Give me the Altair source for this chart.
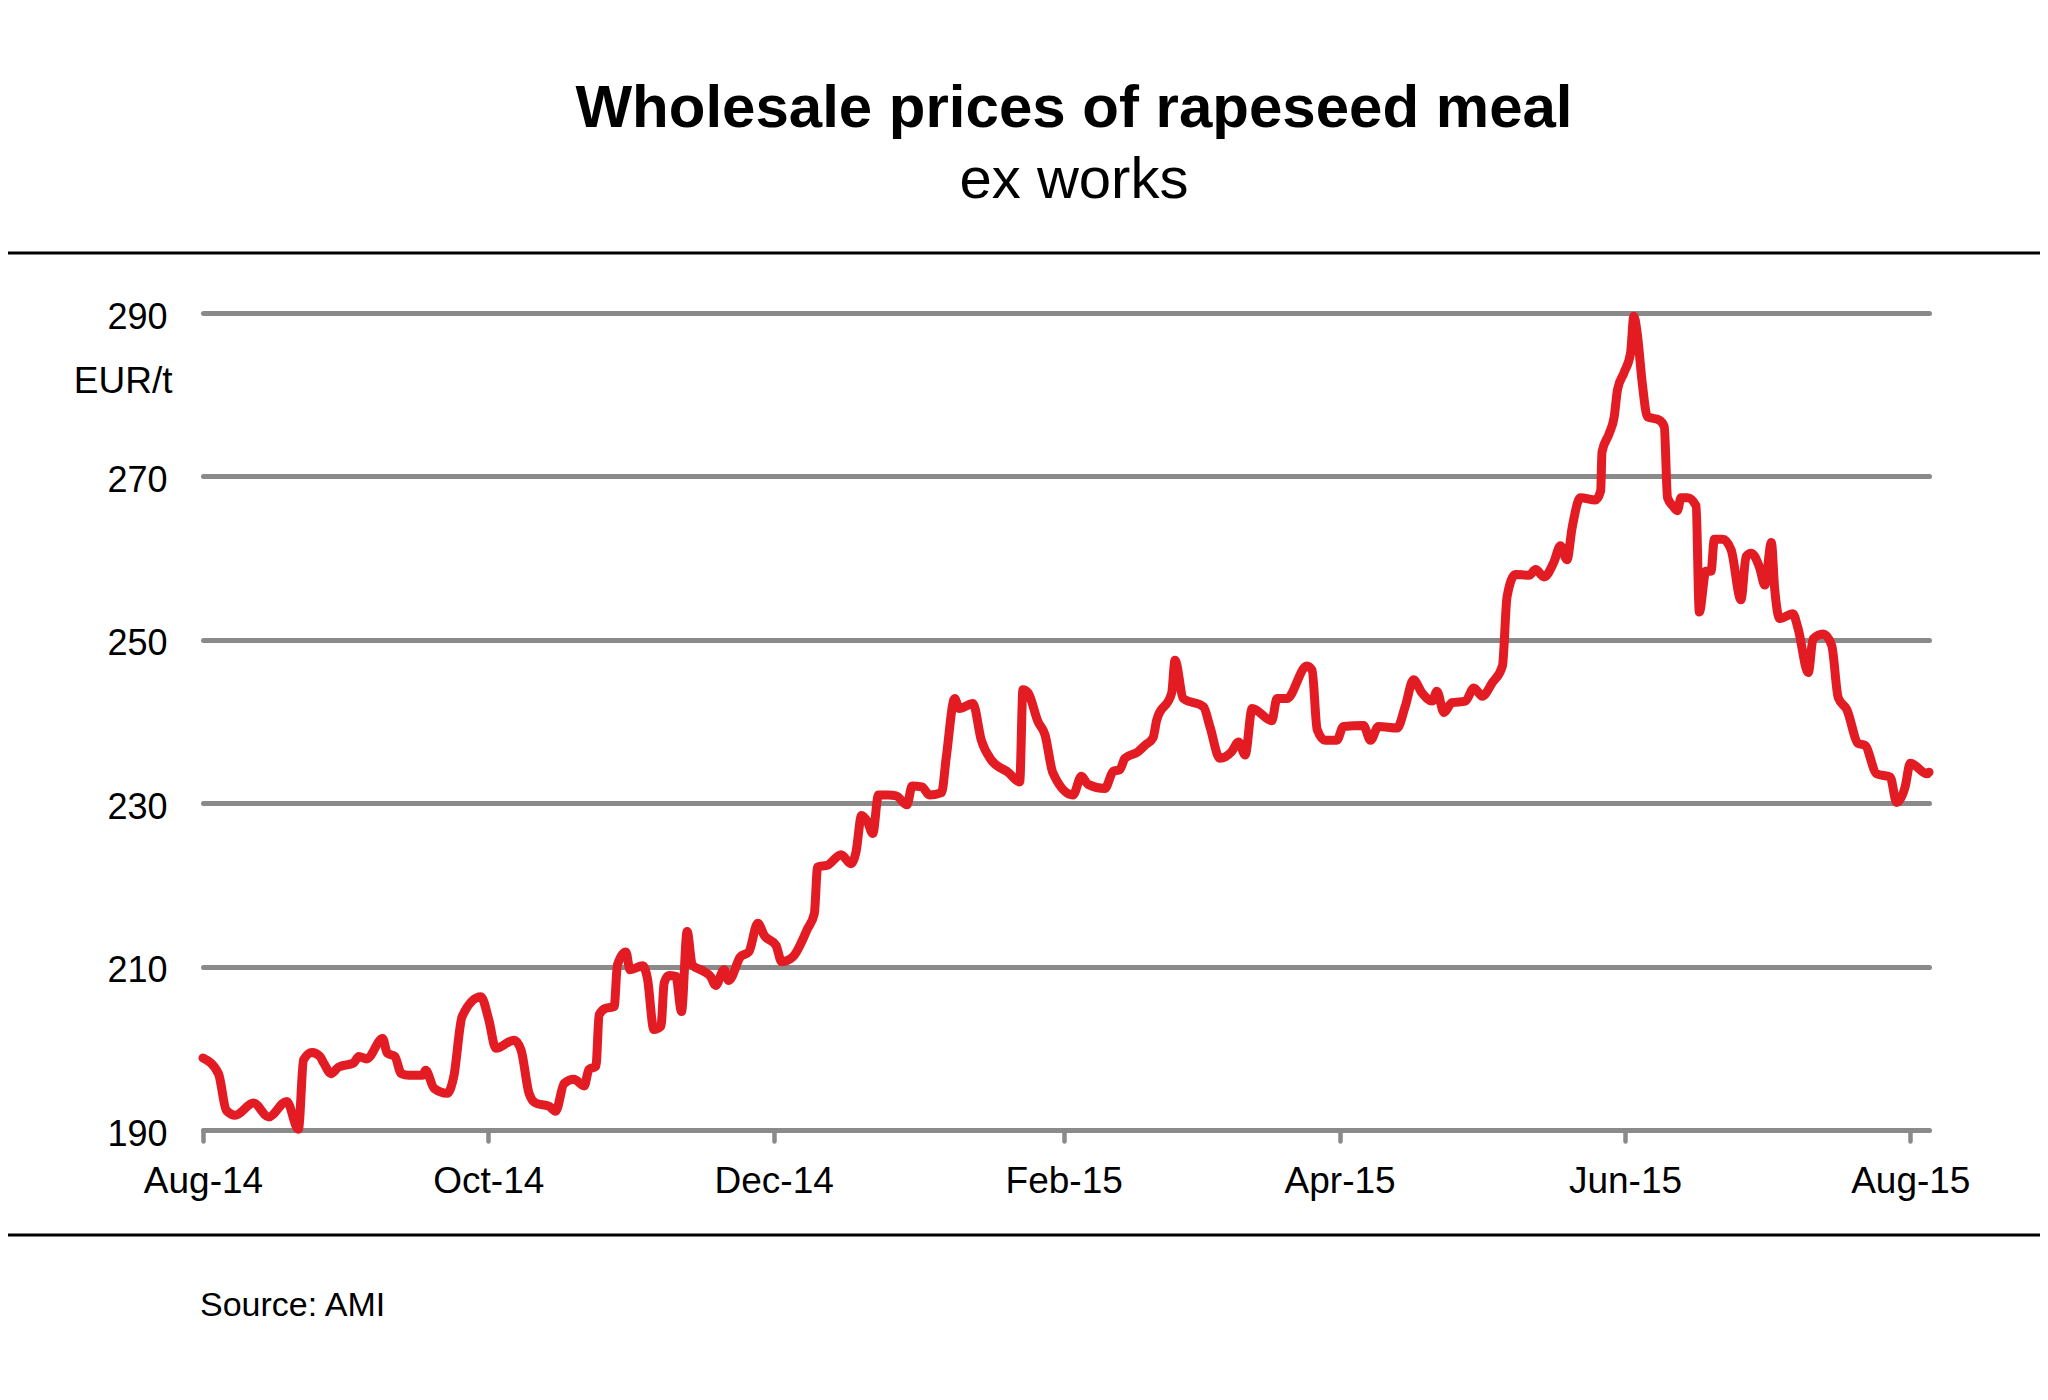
import pandas as pd
import altair as alt

# days after 1 Aug 2014 and price in EUR/t
DAY = [0, 3.3, 5, 6.9, 10.8, 14, 17.9, 20.4, 21.5, 23.3, 25, 25.8, 27.4, 29, 32.2,
       33.3, 35, 38.4, 39.4, 41, 42.4, 44, 46.9, 47.6, 49.4, 52.2, 53.6, 55.4, 59.4,
       61.1, 62.6, 66.5, 68, 69.7, 71.1, 74, 75.4, 77.2, 79.3, 81.5, 82.5, 84, 84.7,
       86.1, 87.9, 88.6, 90.4, 91.3, 94, 95, 96.4, 97.9, 98.6, 99.6, 101.1, 102.3,
       103.5, 104.6, 107.1, 108.5, 109.6, 111.4, 112.4, 114.9, 116.7, 118.6, 120,
       122.5, 123.7, 126.1, 129.3, 130.7, 131.4, 133.5, 136.4, 138.5, 139.6, 140.8,
       142, 143.2, 144.4, 146.5, 148.2, 150.5, 151.6, 153.7, 155.3, 157.9, 158.9,
       160.7, 161.7, 164.6, 166.4, 168.5, 172.1, 174.6, 175.3, 176.4, 178.5, 180,
       181.7, 186, 187.8, 189.2, 192.8, 194.6, 196, 197.1, 199.9, 201.4, 203.1,
       203.9, 207.1, 207.8, 209.6, 213.9, 215.3, 217.4, 219.9, 221.4, 222.8, 224.3,
       228.5, 229.6, 231.7, 236, 237.1, 238.2, 239.9, 242.4, 243.8, 248.1, 249.6,
       251.3, 255.3, 257, 258.8, 260.6, 262.8, 263.8, 265.3, 267, 269.9, 271.7,
       273.5, 275.6, 277.8, 278.8, 280.6, 283.5, 284.9, 286.7, 288.8, 290.2, 291.6,
       292.7, 294.5, 297.7, 298.8, 299.1, 300.6, 301.7, 302.4, 303.8, 305.2, 305.9,
       306.6, 307.7, 308.8, 311.3, 312.4, 313.1, 314.2, 315.2, 316, 317.4, 319.2,
       319.9, 321.3, 322.4, 323.1, 324.9, 326.7, 328.8, 329.9, 331, 332.8, 333.9,
       335.3, 336, 337.1, 339.9, 341, 343.2, 344.2, 346.4, 348.2, 349.6, 351.4,
       353.9, 355.3, 357.8, 360.7, 362.1, 363.9, 365, 368.6, 369]

PRICE = [198.8, 196.9, 192.4, 191.8, 193.3, 191.6, 193.5, 190.1, 198.6, 199.5, 199.0,
         198.2, 196.9, 197.7, 198.2, 199.0, 198.7, 201.2, 199.4, 199.0, 196.9, 196.7,
         196.7, 197.3, 195.1, 194.5, 196.5, 203.9, 206.3, 203.5, 200.0, 201.0, 199.8,
         194.5, 193.3, 192.9, 192.3, 195.7, 196.2, 195.4, 197.4, 197.8, 204.1, 204.9,
         205.1, 210.2, 211.8, 209.6, 210.1, 208.6, 202.3, 202.7, 208.0, 208.9, 208.8,
         204.5, 214.3, 210.2, 209.4, 208.8, 207.7, 209.6, 208.3, 211.2, 211.8, 215.3,
         213.8, 212.6, 210.6, 211.2, 214.7, 216.5, 222.2, 222.4, 223.7, 222.6, 224.0,
         228.5, 227.8, 226.3, 231.0, 231.0, 230.9, 229.8, 232.1, 232.0, 231.0, 231.3,
         235.6, 242.8, 241.6, 242.2, 237.7, 235.3, 233.8, 232.6, 243.9, 243.5, 240.0,
         238.4, 233.7, 231.0, 233.3, 232.3, 231.8, 233.9, 234.1, 235.5, 236.3, 237.1,
         238.0, 240.2, 243.5, 247.5, 242.8, 241.8, 239.3, 235.5, 236.3, 237.5, 235.9,
         241.6, 240.1, 242.8, 242.8, 246.8, 246.3, 239.0, 237.7, 237.7, 239.4, 239.5,
         237.7, 239.4, 239.2, 241.8, 245.1, 243.5, 242.5, 243.7, 241.1, 242.3, 242.5,
         244.1, 243.1, 244.7, 246.8, 255.3, 258.0, 257.9, 258.6, 257.7, 259.5, 261.5,
         259.8, 263.7, 267.4, 267.1, 268.2, 273.0, 275.2, 277.3, 280.6, 282.7, 285.1,
         289.6, 287.6, 281.4, 277.3, 276.9, 276.1, 267.4, 266.4, 265.8, 267.4, 267.4,
         266.4, 253.4, 258.4, 258.4, 262.3, 262.3, 261.0, 254.9, 260.2, 260.6, 258.8,
         256.7, 261.9, 256.3, 252.6, 253.2, 251.4, 246.0, 250.1, 250.7, 249.3, 242.9,
         241.5, 237.3, 237.1, 233.6, 233.2, 230.1, 232.0, 234.9, 233.6, 233.8]

Y_TICKS = [190, 210, 230, 250, 270, 290]
X_TICKS = [(2014, 8), (2014, 10), (2014, 12), (2015, 2), (2015, 4), (2015, 6), (2015, 8)]

TITLE = "Wholesale prices of rapeseed meal"
SUBTITLE = "ex works"
SOURCE = "Source: AMI"
UNIT = "EUR/t"

RED = "#E31B23"
GRID = "#8A8A8A"
FONT = "Liberation Sans"

df = pd.DataFrame({
    "date": pd.Timestamp("2014-08-01") + pd.to_timedelta(DAY, unit="D"),
    "price": PRICE,
})

line = alt.Chart(df).mark_line(
    color=RED, strokeWidth=9, interpolate="monotone", strokeCap="round", strokeJoin="round"
).encode(
    x=alt.X("date:T", title=None,
            scale=alt.Scale(domain=[alt.DateTime(year=2014, month=8, date=1),
                                    alt.DateTime(year=2015, month=8, date=5)]),
            axis=alt.Axis(values=[alt.DateTime(year=y, month=m, date=1) for y, m in X_TICKS],
                          format="%b-%y", grid=False, domain=False,
                          tickColor=GRID, tickWidth=4.5, tickSize=11, tickCap="round",
                          labelFontSize=37, labelColor="black", labelAlign="center",
                          labelBaseline="alphabetic", labelPadding=51)),
    y=alt.Y("price:Q",
            scale=alt.Scale(domain=[190, 290], nice=False, zero=False),
            axis=alt.Axis(values=Y_TICKS, grid=True, gridColor=GRID, gridWidth=5,
                          gridCap="round", domain=False, ticks=False,
                          labelFontSize=36, labelColor="black", labelPadding=36,
                          labelBaseline="alphabetic", labelOffset=15,
                          title=UNIT, titleAngle=0, titleX=-31, titleY=79,
                          titleAlign="right", titleBaseline="alphabetic",
                          titleFontSize=37, titleFontWeight="normal", titleColor="black")),
)


def label(text, x, y, size, weight="normal", align="center"):
    return alt.Chart(pd.DataFrame({"t": [text]})).mark_text(
        fontSize=size, fontWeight=weight, align=align, baseline="alphabetic", color="black"
    ).encode(text="t:N", x=alt.value(x), y=alt.value(y))


def hrule(y):
    return alt.Chart(pd.DataFrame({"r": [0]})).mark_rule(color="black", strokeWidth=3).encode(
        x=alt.value(-195), x2=alt.value(1837), y=alt.value(y)
    )


chart = alt.layer(
    line,
    label(TITLE, 871, -186, 60, weight="bold"),
    label(SUBTITLE, 871, -115, 58),
    label(SOURCE, -3, 1003, 34, align="left"),
    hrule(-60),
    hrule(922),
).properties(
    width=1726, height=817,
    autosize=alt.AutoSizeParams(type="none"),
    padding={"left": 195, "top": 305, "right": 111, "bottom": 262},
).configure(
    font=FONT
).configure_view(
    stroke=None
)

chart.save("out.html", embed_options={"renderer": "svg", "actions": False})
